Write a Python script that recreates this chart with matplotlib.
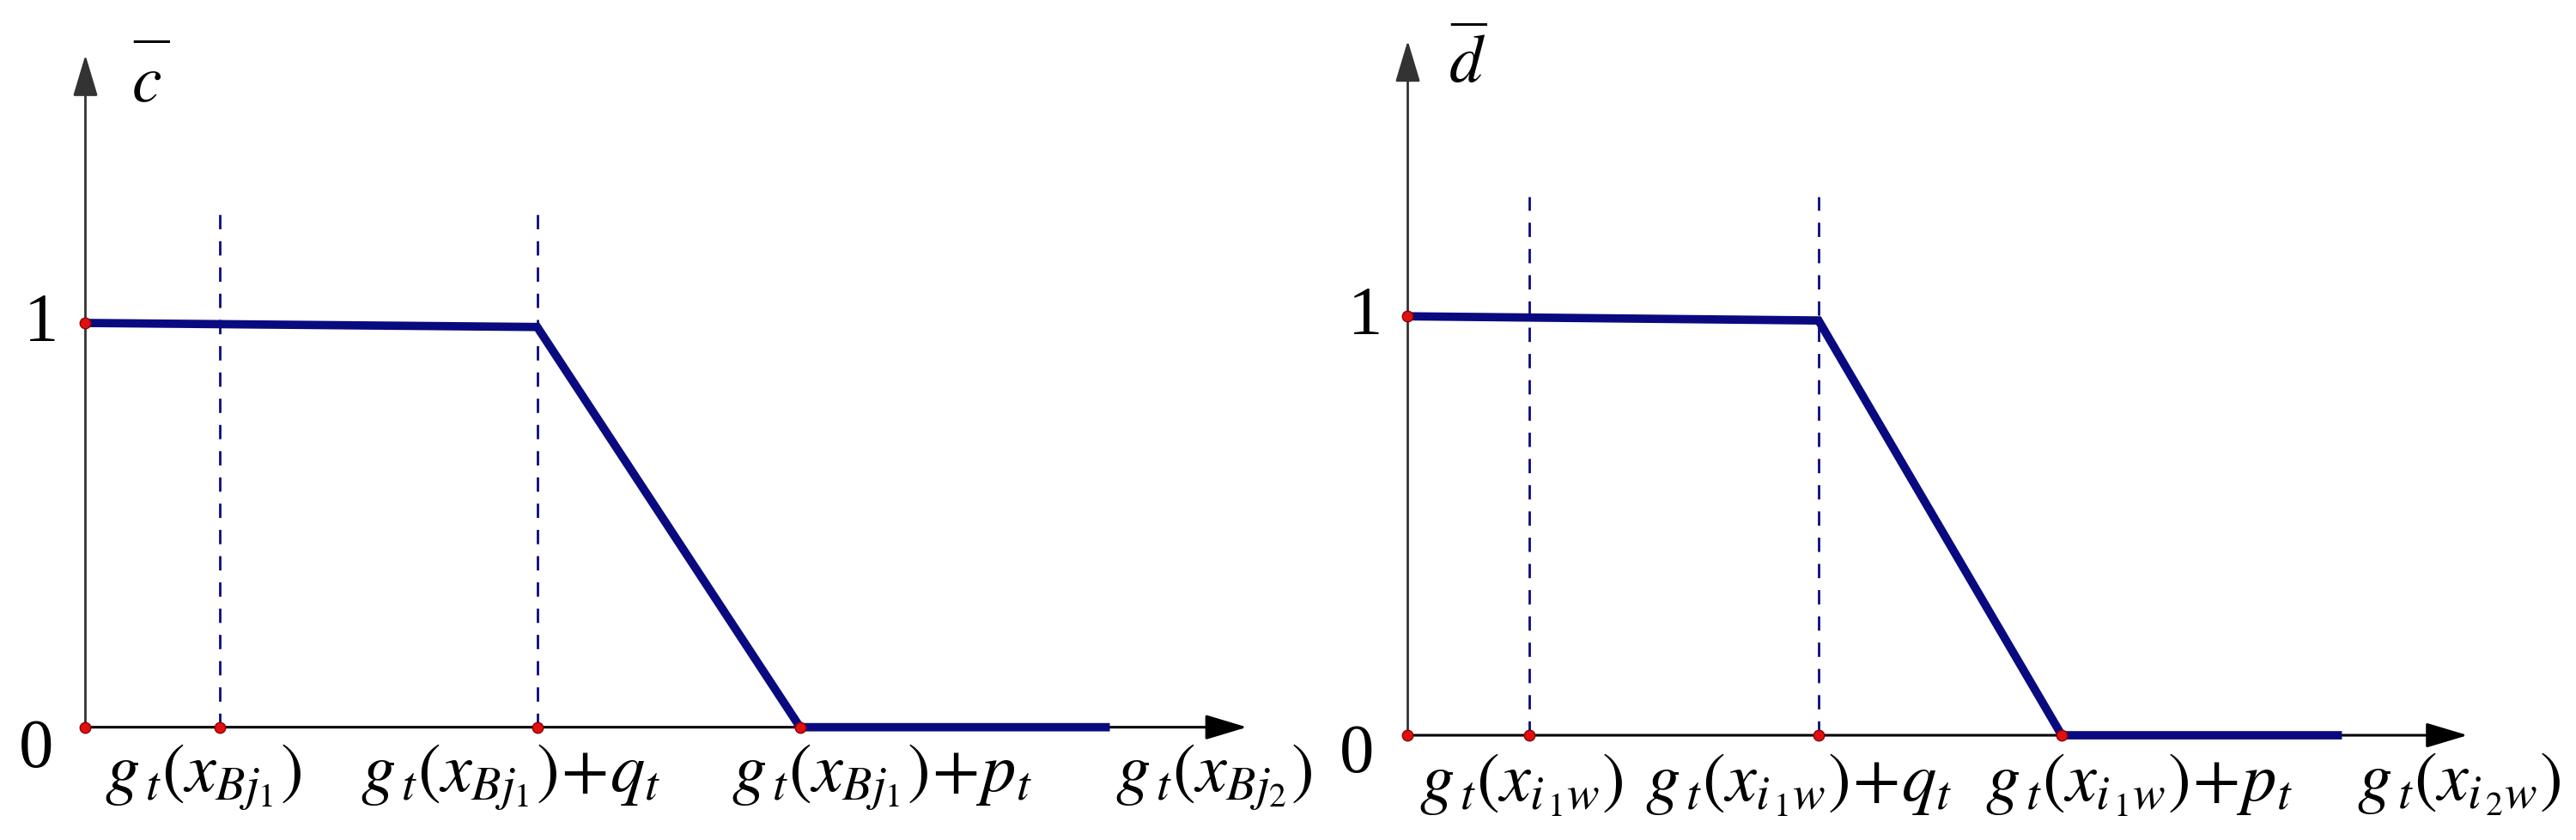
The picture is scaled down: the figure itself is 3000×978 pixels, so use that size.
import matplotlib
matplotlib.use("Agg")
import matplotlib.pyplot as plt

plt.rcParams['mathtext.fontset'] = 'stix'
plt.rcParams['font.family'] = ['Liberation Serif', 'DejaVu Serif']

# left panel (c bar)
c_x = [0, 2.75, 4.35, 6.21]
c_y = [1, 0.99, 0, 0]
c_marks = [0, 0.82, 2.75, 4.35]
c_dash = [0.82, 2.75]
c_labels = [r'$g_{\,t}\left(x_{Bj_{1}}\right)$',
            r'$g_{\,t}\left(x_{Bj_{1}}\right)\!+\!q_t$',
            r'$g_{\,t}\left(x_{Bj_{1}}\right)\!+\!p_t$',
            r'$g_{\,t}\left(x_{Bj_{2}}\right)$']
c_label_x = [0.72, 2.59, 4.85, 6.87]

# right panel (d bar)
d_x = [0, 2.50, 3.98, 5.66]
d_y = [1, 0.99, 0, 0]
d_marks = [0, 0.74, 2.50, 3.98]
d_dash = [0.74, 2.50]
d_labels = [r'$g_{\,t}\left(x_{i_{\,1}w}\right)$',
            r'$g_{\,t}\left(x_{i_{\,1}w}\right)\!+\!q_t$',
            r'$g_{\,t}\left(x_{i_{\,1}w}\right)\!+\!p_t$',
            r'$g_{\,t}\left(x_{i_{\,2}w}\right)$']
d_label_x = [0.69, 2.38, 4.45, 6.40]

NAVY = '#0a0a80'


def draw_panel(ax, xs, ys, marks, dashes, labels, label_x, label_y,
               x_end, y_end, dash_top, ylab, ylab_pos, bar_pos, zero_pos, one_pos):
    ax.axis('off')
    # axes with arrows
    ax.annotate('', xy=(x_end, 0), xytext=(0, 0),
                arrowprops=dict(arrowstyle='-|>,head_length=1.0,head_width=0.3',
                                lw=2.2, color='black', shrinkA=0, shrinkB=0,
                                mutation_scale=30))
    ax.annotate('', xy=(0, y_end), xytext=(0, 0),
                arrowprops=dict(arrowstyle='-|>,head_length=1.0,head_width=0.3',
                                lw=2.0, color='#333333', shrinkA=0, shrinkB=0,
                                mutation_scale=30))
    for xd in dashes:
        ax.plot([xd, xd], [0, dash_top], ls=(0, (6, 5)), lw=2.0, color=NAVY)
    ax.plot(xs, ys, color=NAVY, lw=7, solid_joinstyle='miter', zorder=3)
    ax.plot(marks, [0] * len(marks), 'o', ms=9, mfc='#e01010', mec='#8b0000',
            mew=1, zorder=4)
    ax.plot([0], [1], 'o', ms=9, mfc='#e01010', mec='#8b0000', mew=1, zorder=4)
    for lab, lx in zip(labels, label_x):
        ax.text(lx, label_y, lab, fontsize=58, ha='center', va='center',
                clip_on=False)
    ax.text(*zero_pos, '0', fontsize=58, ha='center', va='center')
    ax.text(*one_pos, '1', fontsize=58, ha='center', va='center')
    # y label with a raised bar over it
    ax.text(*ylab_pos, ylab, fontsize=56, ha='center', va='center')
    ax.text(*bar_pos, '\u2014', fontsize=30, fontweight='bold',
            ha='center', va='center')


fig = plt.figure(figsize=(30, 9.79), dpi=100)
ax1 = fig.add_axes([0, 0, 0.5, 1])
ax1.set_xlim(-0.52, 7.32)
ax1.set_ylim(-0.279, 1.801)
draw_panel(ax1, c_x, c_y, c_marks, c_dash, c_labels, c_label_x, -0.122,
           7.07, 1.663, 1.28, r'$c$', (0.37, 1.59), (0.40, 1.70),
           (-0.30, -0.054), (-0.27, 1.0))

ax2 = fig.add_axes([0.5, 0, 0.5, 1])
ax2.set_xlim(-0.729, 7.11)
ax2.set_ylim(-0.25, 1.757)
draw_panel(ax2, d_x, d_y, d_marks, d_dash, d_labels, d_label_x, -0.115,
           6.45, 1.658, 1.286, r'$d$', (0.36, 1.60), (0.37, 1.70),
           (-0.31, -0.047), (-0.26, 1.0))

fig.savefig('out.png', dpi=100)
